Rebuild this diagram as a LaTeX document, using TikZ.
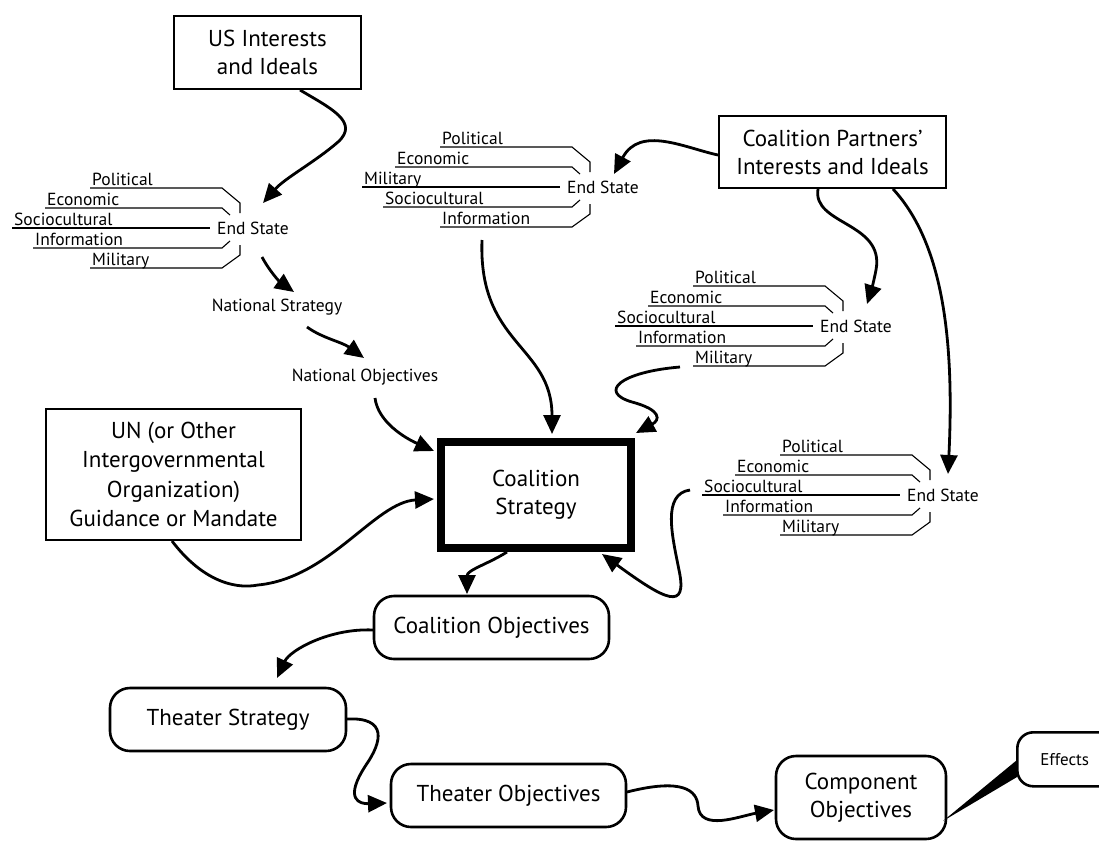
\documentclass[tikz,border=0pt]{standalone}
\usepackage{fontspec}
\setmainfont{PT Sans}
\usetikzlibrary{arrows.meta}
\newcommand{\esgroup}[8]{%
\begin{scope}[shift={(#1,#2)}]
 \draw[esl] (-150,-40) -- (-18,-40) -- (0,-25) -- (0,-15);
 \draw[esl] (-195,-20) -- (-18,-20) -- (-10,-13);
 \draw[esl] (-228,0) -- (-30,0);
 \draw[esl] (-207,20) -- (-18,20) -- (-10,13);
 \draw[esl] (-150,40) -- (-18,40) -- (0,27) -- (0,17);
 \node[lab, anchor=west] (#3) at (-23,0) {End State};
 \node[lab, anchor=base west] (#3-1) at (-148,-43) {#4};
 \node[lab, anchor=base west] (#3-2) at (-193,-23) {#5};
 \node[lab, anchor=base west] (#3-3) at (-226,-3) {#6};
 \node[lab, anchor=base west] (#3-4) at (-205,17) {#7};
 \node[lab, anchor=base west] (#3-5) at (-148,37) {#8};
\end{scope}}
\begin{document}
\begin{tikzpicture}[x=1pt,y=-1pt,
  box/.style={draw, line width=2.6pt, inner sep=0pt, align=center, font=\fontsize{23}{28}\selectfont},
  rbox/.style={box, rounded corners=20pt},
  lab/.style={inner sep=0pt, font=\fontsize{17.5}{20}\selectfont},
  arr/.style={line width=2.8pt, -{Triangle[length=19pt,width=17pt]}},
  esl/.style={line width=1.1pt},
]
\useasboundingbox (0,0) rectangle (1099,843);

% boxes
\node[box, minimum width=187pt, minimum height=73pt] (us) at (267.5,52.5) {US Interests\\and Ideals};
\node[box, minimum width=227pt, minimum height=72pt] (cp) at (832.5,152) {Coalition Partners'\\Interests and Ideals};
\node[box, minimum width=255pt, minimum height=131pt, font=\fontsize{23}{29.5}\selectfont] (un) at (173.5,474.5) {UN (or Other\\Intergovernmental\\Organization)\\Guidance or Mandate};
\node[box, line width=8pt, minimum width=190pt, minimum height=106pt] (cs) at (536,495) {Coalition\\Strategy};
\node[rbox, minimum width=235pt, minimum height=63pt] (co) at (491.5,627.5) {Coalition Objectives};
\node[rbox, minimum width=236pt, minimum height=63pt] (ts) at (228,719.5) {Theater Strategy};
\node[rbox, minimum width=235pt, minimum height=63pt] (to) at (508.5,795.5) {Theater Objectives};
\node[rbox, minimum width=170pt, minimum height=83pt] (compo) at (861,797.5) {Component\\Objectives};

% effects callout
\fill (1017,760) -- (943,821) -- (1017,777) -- cycle;
\node[rbox, rounded corners=16pt, fill=white, minimum width=98pt, minimum height=54pt, anchor=north west, text width=90pt, align=left, font=\fontsize{17}{20}\selectfont] (eff) at (1016,731) {\hspace*{19pt}Effects};

% end state groups
\esgroup{240}{228}{es1}{Political}{Economic}{Sociocultural}{Information}{Military}
\esgroup{590}{187}{es2}{Political}{Economic}{Military}{Sociocultural}{Information}
\esgroup{843}{326}{es3}{Political}{Economic}{Sociocultural}{Information}{Military}
\esgroup{930}{495}{es4}{Political}{Economic}{Sociocultural}{Information}{Military}

\node[lab] (ns) at (277,307) {National Strategy};
\node[lab] (no) at (365,377) {National Objectives};

% coordinates
\coordinate (c1) at (300,90);
\coordinate (c2) at (263,203);
\coordinate (c3) at (262,257);
\coordinate (c4) at (294,292);
\coordinate (c5) at (307,327);
\coordinate (c6) at (364,358);
\coordinate (c7) at (375,398);
\coordinate (c8) at (434,451);
\coordinate (c9) at (172,541);
\coordinate (c10) at (434,499);
\coordinate (c11) at (482,240);
\coordinate (c12) at (552,434);
\coordinate (c13) at (680,367);
\coordinate (c14) at (636,433);
\coordinate (c15) at (690,490);
\coordinate (c16) at (602,554);
\coordinate (c17) at (507,552);
\coordinate (c18) at (467,594);
\coordinate (c19) at (373,630);
\coordinate (c20) at (277,678);
\coordinate (c21) at (347,719);
\coordinate (c22) at (387,803);
\coordinate (c23) at (627,792);
\coordinate (c24) at (774,810);
\coordinate (c25) at (718,155);
\coordinate (c26) at (614,174);
\coordinate (c27) at (818,189);
\coordinate (c28) at (867,304);
\coordinate (c29) at (893,189);
\coordinate (c30) at (948,474);

% arrows
\draw[arr] (c1) .. controls (330,108) and (360,122) .. (338,142) .. controls (315,162) and (285,178) .. (c2);
\draw[arr] (c3) .. controls (270,272) and (280,282) .. (c4);
\draw[arr] (c5) .. controls (322,338) and (342,342) .. (c6);
\draw[arr] (c7) .. controls (378,422) and (405,438) .. (c8);
\draw[arr] (c9) .. controls (200,578) and (232,590) .. (258,585) .. controls (330,578) and (375,502) .. (c10);
\draw[arr] (c11) .. controls (478,345) and (552,345) .. (c12);
\draw[arr] (c13) .. controls (620,372) and (598,392) .. (632,402) .. controls (662,410) and (660,420) .. (c14);
\draw[arr] (c15) .. controls (662,494) and (672,535) .. (679,570) .. controls (688,612) and (665,600) .. (c16);
\draw[arr] (c17) .. controls (488,564) and (467,570) .. (c18);
\draw[arr] (c19) .. controls (330,628) and (290,650) .. (c20);
\draw[arr] (c21) .. controls (388,717) and (382,742) .. (366,765) .. controls (343,800) and (360,804) .. (c22);
\draw[arr] (c23) .. controls (682,778) and (697,790) .. (698,806) .. controls (700,832) and (740,816) .. (c24);
\draw[arr] (c25) .. controls (685,148) and (640,125) .. (c26);
\draw[arr] (c27) .. controls (812,225) and (885,222) .. (876,270) .. controls (873,285) and (870,295) .. (c28);
\draw[arr] (c29) .. controls (940,240) and (955,330) .. (c30);
\end{tikzpicture}
\end{document}
